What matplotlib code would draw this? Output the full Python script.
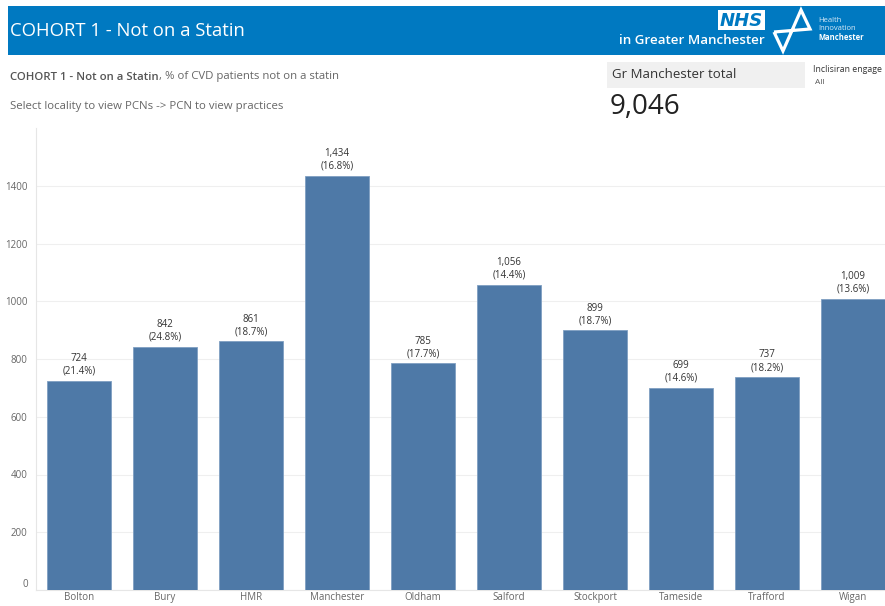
import matplotlib
matplotlib.use("Agg")
import matplotlib.pyplot as plt
from matplotlib.patches import Rectangle
from matplotlib.ticker import FixedLocator

plt.rcParams['font.family'] = ['Open Sans', 'DejaVu Sans']

localities = ["Bolton", "Bury", "HMR", "Manchester", "Oldham", "Salford",
              "Stockport", "Tameside", "Trafford", "Wigan"]
patients = [724, 842, 861, 1434, 785, 1056, 899, 699, 737, 1009]
pct = [21.4, 24.8, 18.7, 16.8, 17.7, 14.4, 18.7, 14.6, 18.2, 13.6]
y_ticks = [0, 200, 400, 600, 800, 1000, 1200, 1400]
total_label = "9,046"

W, H = 885, 606
fig = plt.figure(figsize=(W / 100, H / 100), dpi=100)

# ---- main chart axes (pixel geometry converted to fractions) ----
ax_left, ax_right, ax_top, ax_bottom = 36, 896, 128, 590
ax = fig.add_axes([ax_left / W, (H - ax_bottom) / H,
                   (ax_right - ax_left) / W, (ax_bottom - ax_top) / H])
bar_color = "#4E79A7"
x = list(range(len(localities)))
ax.bar(x, patients, width=0.745, color=bar_color, edgecolor="#7f9fc2",
       linewidth=0.6, zorder=3)
ax.set_xlim(-0.5, len(localities) - 0.5)
ax.set_ylim(0, 1600)
ax.yaxis.set_major_locator(FixedLocator(y_ticks))
ax.set_yticklabels([str(v) for v in y_ticks])
ax.grid(axis="y", color="#efefef", linewidth=0.8, zorder=0)
ax.set_xticks(x)
ax.set_xticklabels(localities)
ax.tick_params(axis="both", length=0, labelsize=7, labelcolor="#666666")
ax.tick_params(axis="x", pad=1.5)
ax.tick_params(axis="y", pad=6)
ax.get_yticklabels()[0].set_va("bottom")
for s in ["top", "right"]:
    ax.spines[s].set_visible(False)
ax.spines["left"].set_color("#e6e6e6")
ax.spines["bottom"].set_color("#e6e6e6")
ax.spines["left"].set_linewidth(0.8)
ax.spines["bottom"].set_linewidth(0.8)

for xi, v, p in zip(x, patients, pct):
    ax.annotate(f"{v:,}\n({p}%)", (xi, v), xytext=(0, 3),
                textcoords="offset points", ha="center", va="bottom",
                fontsize=7, color="#333333", linespacing=1.2, zorder=4)

# ---- overlay in pixel coordinates for dashboard chrome ----
ov = fig.add_axes([0, 0, 1, 1], zorder=10)
ov.set_xlim(0, W)
ov.set_ylim(H, 0)
ov.axis("off")
ov.patch.set_alpha(0)

header_blue = "#0079C1"
ov.add_patch(Rectangle((8, 6), W - 8, 49, color=header_blue, lw=0))
ov.text(10, 31, "COHORT 1 - Not on a Statin", color="white", fontsize=13.3,
        va="center", ha="left")

# NHS logo box
ov.add_patch(Rectangle((718, 10), 47, 20, color="white", lw=0))
ov.text(741.5, 20.5, "NHS", color=header_blue, fontsize=13, fontweight="bold",
        fontstyle="italic", ha="center", va="center", family="DejaVu Sans")
ov.text(765, 41, "in Greater Manchester", color="white", fontsize=9.6,
        fontweight="semibold", ha="right", va="center")
# Health Innovation mark (bow-tie of two triangles)
ov.plot([774, 783, 801, 810, 774], [32, 51, 10, 29, 32],
        color="white", lw=2.3, solid_joinstyle="miter", solid_capstyle="butt")
ov.text(818, 20, "Health", color="#d8e9f6", fontsize=5.5, va="center")
ov.text(818, 29, "Innovation", color="#d8e9f6", fontsize=5.5, va="center")
ov.text(818, 38, "Manchester", color="white", fontsize=5.5, va="center",
        fontweight="bold")

# subtitle lines
t_bold = ov.text(10, 77, "COHORT 1 - Not on a Statin", color="#555555",
                 fontsize=8.2, fontweight="semibold", va="center")
ov.annotate(", % of CVD patients not on a statin", xy=(1, 0.5),
            xycoords=t_bold, xytext=(0, 0), textcoords="offset points",
            color="#666666", fontsize=8.2, va="center", ha="left")
ov.text(10, 106, "Select locality to view PCNs -> PCN to view practices",
        color="#666666", fontsize=8.2, va="center")

# total KPI
ov.add_patch(Rectangle((607, 62), 198, 26, color="#f0f0f0", lw=0))
ov.text(612, 75, "Gr Manchester total", color="#333333", fontsize=9.5,
        va="center")
ov.text(610, 107, total_label, color="#222222", fontsize=20, va="center")

# filter (truncated at the dashboard edge, as in the reference)
ov.text(813, 70, "Inclisiran engage", color="#333333", fontsize=6.3,
        va="center")
ov.text(815, 82, "All", color="#555555", fontsize=6, va="center")

fig.savefig("out.png", dpi=100)
